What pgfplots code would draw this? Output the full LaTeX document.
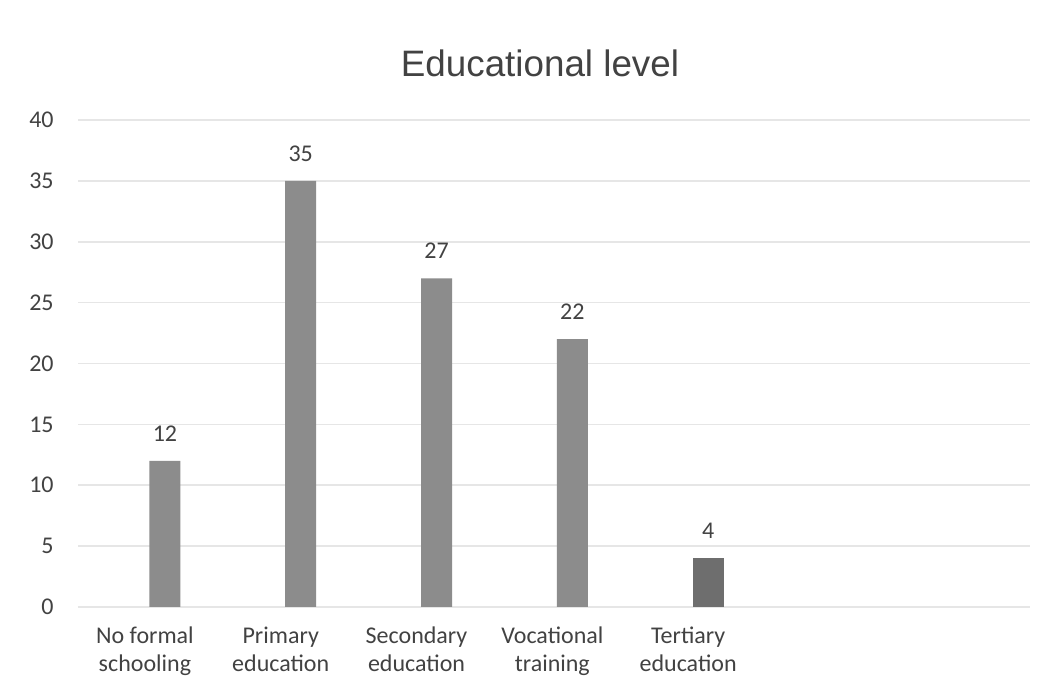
\documentclass[border=0pt]{standalone}
\usepackage{pgfplots}
\pgfplotsset{compat=1.18}
\usepackage{fontspec}
\setmainfont{Carlito}
\newfontfamily\titlefont{Liberation Sans}

\definecolor{txtgray}{HTML}{424242}
\definecolor{gridgray}{HTML}{E6E6E6}
\definecolor{bargray}{HTML}{8C8C8C}
\definecolor{bardark}{HTML}{6E6E6E}

\pgfplotstableread{
x  y
0  12
1  35
2  27
3  22
}\mainbars
\pgfplotstableread{
x  y
4  4
}\lastbar

\begin{document}
\begin{tikzpicture}
\begin{axis}[
  scale only axis,
  width=476pt, height=243.5pt,
  xmin=-0.64, xmax=6.37,
  ymin=0, ymax=40,
  ytick={0,5,...,40},
  xtick={0,1,2,3,4},
  xticklabels={{\strut No formal\\\strut schooling},{\strut Primary\\\strut education},{\strut Secondary\\\strut education},{\strut Vocational\\\strut training},{\strut Tertiary\\\strut education}},
  axis line style={draw=none},
  major tick length=0pt,
  ymajorgrids,
  grid style={gridgray, line width=0.8pt},
  /pgf/number format/assume math mode=true,
  tick label style={font=\fontsize{12}{14}\selectfont, text=txtgray},
  yticklabel style={inner sep=0pt, xshift=-12pt},
  xticklabel style={align=center, inner sep=0pt, anchor=north, yshift=-8.3pt, xshift=-10pt},
  axis background/.style={fill=white},
  clip=false,
]
\draw[gridgray, line width=0.8pt] (rel axis cs:0,0) -- (rel axis cs:1,0);
\addplot[ybar, bar width=15.5pt, bar shift=0pt, fill=bargray, draw=none,
  nodes near coords,
  every node near coord/.append style={font=\fontsize{12}{14}\selectfont, text=txtgray, inner sep=0pt, anchor=south, yshift=9.5pt}]
  table[x=x, y=y] {\mainbars};
\addplot[ybar, bar width=15.5pt, bar shift=0pt, fill=bardark, draw=none,
  nodes near coords,
  every node near coord/.append style={font=\fontsize{12}{14}\selectfont, text=txtgray, inner sep=0pt, anchor=south, yshift=9.5pt}]
  table[x=x, y=y] {\lastbar};
\coordinate (o) at (rel axis cs:0,0);
\end{axis}
\node[font=\titlefont\fontsize{18.4}{22}\selectfont, text=txtgray] at ([shift={(231pt,272pt)}]o) {Educational level};
\pgfresetboundingbox
\path[use as bounding box] ([shift={(-39pt,-44pt)}]o) rectangle ([shift={(489pt,303.5pt)}]o);
\end{tikzpicture}
\end{document}
